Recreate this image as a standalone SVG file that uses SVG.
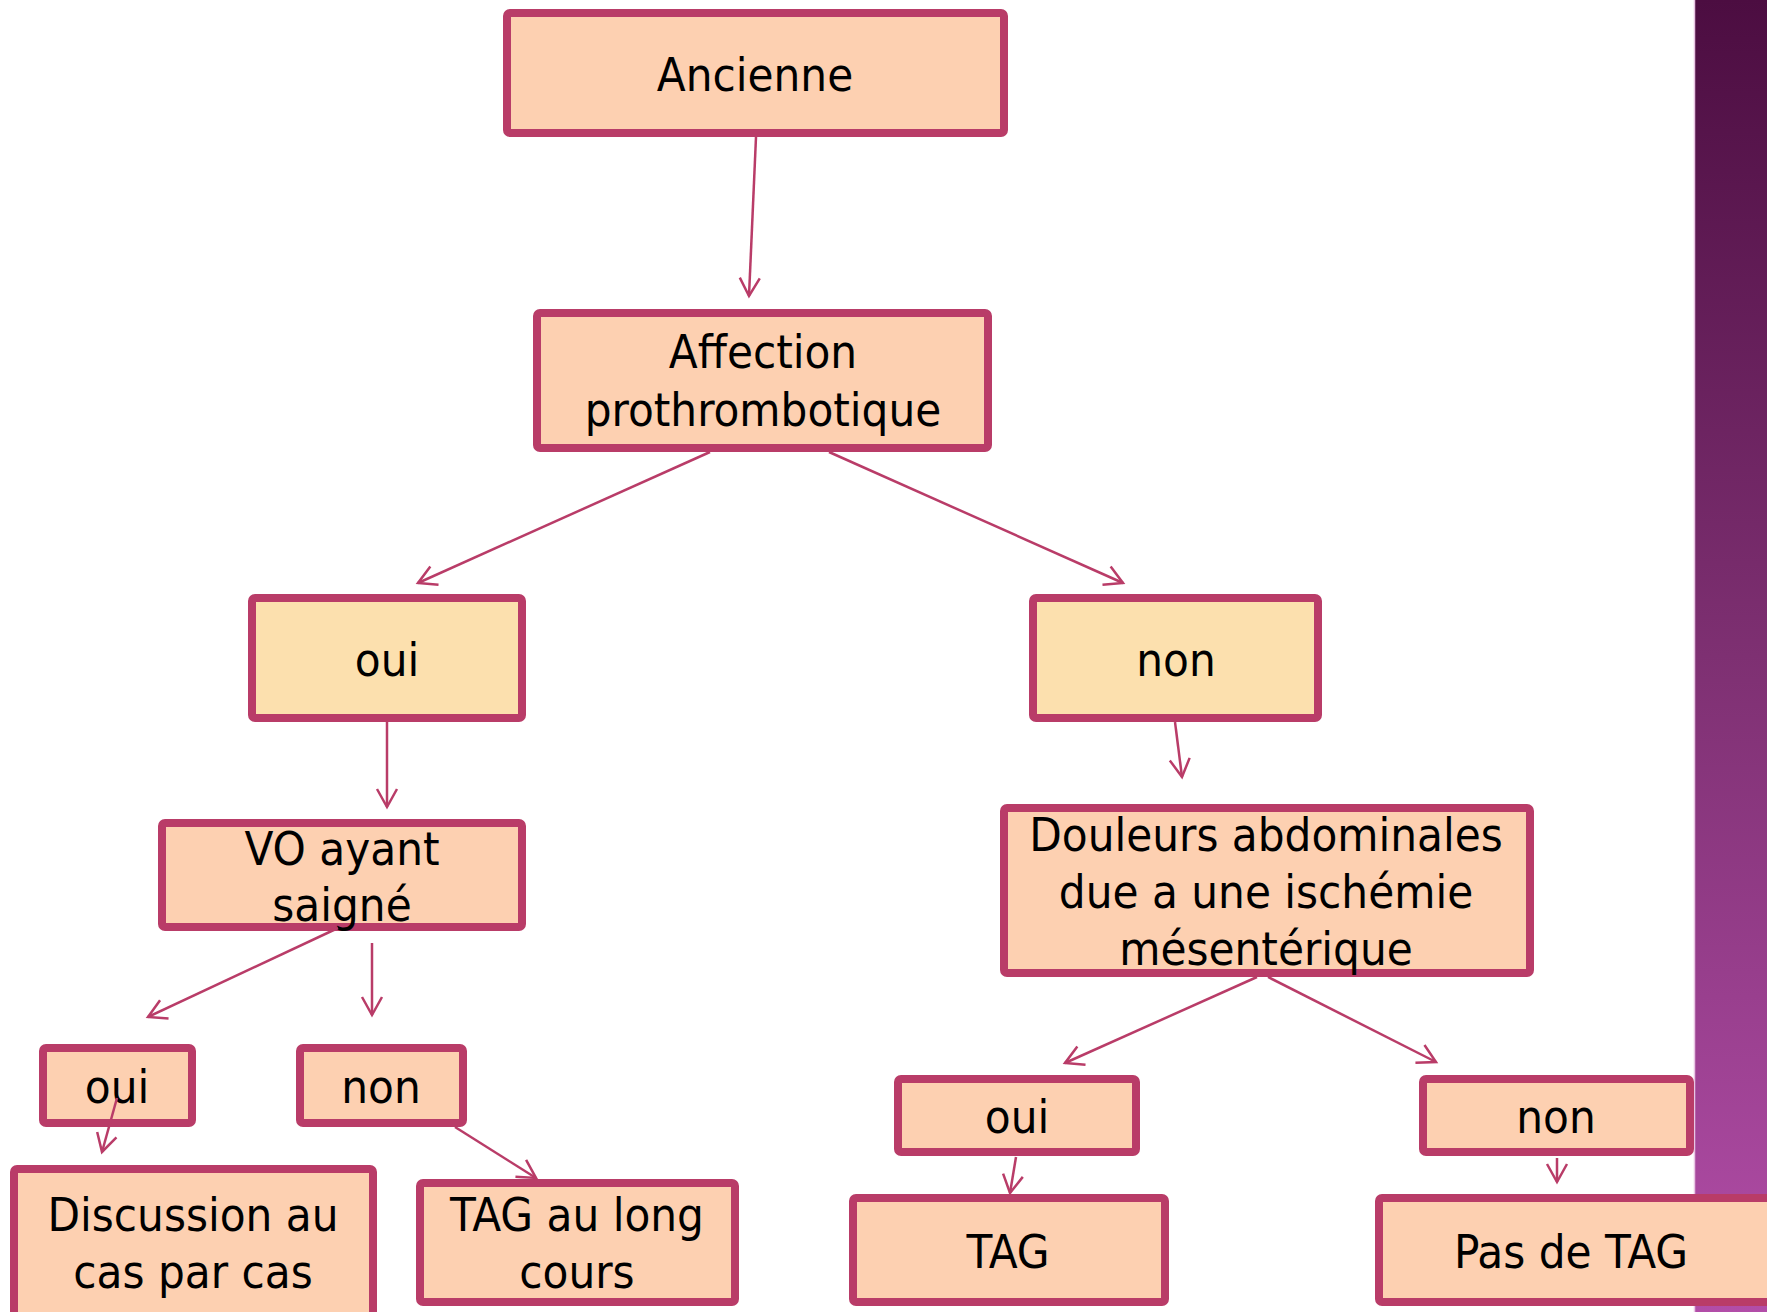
<svg xmlns="http://www.w3.org/2000/svg" width="1767" height="1312" viewBox="0 0 1767 1312">
<style>
.box{fill:#FDD0B1;stroke:#B93C68;stroke-width:8}
.yel{fill:#FCE0AE;stroke:#B93C68;stroke-width:8}
.t{font-family:"DejaVu Sans Condensed","DejaVu Sans",sans-serif;font-stretch:condensed;font-size:47px;fill:#000;text-anchor:middle}
.c{stroke:#B93C68;stroke-width:2.5;fill:none;marker-end:url(#ah)}
</style>
<defs>
<linearGradient id="band" x1="0" y1="0" x2="0" y2="1">
<stop offset="0" stop-color="#4C0D41"/>
<stop offset="0.5" stop-color="#7E3072"/>
<stop offset="1" stop-color="#B24DA8"/>
</linearGradient>
<marker id="ah" markerUnits="userSpaceOnUse" viewBox="-22 -13 26 26" refX="0" refY="0" markerWidth="26" markerHeight="26" orient="auto">
<path d="M-18,-10 L0,0 L-18,10" fill="none" stroke="#B93C68" stroke-width="2.5"/>
</marker>
</defs>
<rect x="0" y="0" width="1767" height="1312" fill="#fff"/>
<rect x="1694" y="0" width="73" height="1312" fill="url(#band)"/>
<line x1="1694.5" y1="0" x2="1694.5" y2="1312" stroke="#E9C6E4" stroke-width="1.5"/>
<g id="n-ancienne"><rect class="box" x="507" y="13" width="497" height="120" rx="3"/><text class="t" x="755" y="91">Ancienne</text></g>
<g id="n-affection"><rect class="box" x="537" y="313" width="451" height="135" rx="3"/><text class="t" x="763" y="368">Affection</text><text class="t" x="763" y="426">prothrombotique</text></g>
<g id="n-oui1"><rect class="yel" x="252" y="598" width="270" height="120" rx="3"/><text class="t" x="387" y="676">oui</text></g>
<g id="n-non1"><rect class="yel" x="1033" y="598" width="285" height="120" rx="3"/><text class="t" x="1176" y="676">non</text></g>
<g id="n-vo"><rect class="box" x="162" y="823" width="360" height="104" rx="3"/><text class="t" x="342" y="865">VO ayant</text><text class="t" x="342" y="921">saigné</text></g>
<g id="n-douleurs"><rect class="box" x="1004" y="808" width="526" height="165" rx="3"/><text class="t" x="1266" y="851">Douleurs abdominales</text><text class="t" x="1266" y="908">due a une ischémie</text><text class="t" x="1266" y="965">mésentérique</text></g>
<g id="n-oui2"><rect class="box" x="43" y="1048" width="149" height="75" rx="3"/><text class="t" x="117" y="1103">oui</text></g>
<g id="n-non2"><rect class="box" x="300" y="1048" width="163" height="75" rx="3"/><text class="t" x="381" y="1103">non</text></g>
<g id="n-discussion"><rect class="box" x="14" y="1169" width="359" height="160" rx="3"/><text class="t" x="193" y="1231">Discussion au</text><text class="t" x="193" y="1288">cas par cas</text></g>
<g id="n-taglong"><rect class="box" x="420" y="1183" width="315" height="119" rx="3"/><text class="t" x="577" y="1231">TAG au long</text><text class="t" x="577" y="1288">cours</text></g>
<g id="n-oui3"><rect class="box" x="898" y="1079" width="238" height="73" rx="3"/><text class="t" x="1017" y="1133">oui</text></g>
<g id="n-non3"><rect class="box" x="1423" y="1079" width="267" height="73" rx="3"/><text class="t" x="1556" y="1133">non</text></g>
<g id="n-tag"><rect class="box" x="853" y="1198" width="312" height="104" rx="3"/><text class="t" x="1008" y="1268">TAG</text></g>
<g id="n-pasdetag"><rect class="box" x="1379" y="1198" width="400" height="104" rx="3"/><text class="t" x="1571" y="1268">Pas de TAG</text></g>
<g id="connectors">
<line class="c" x1="756" y1="137" x2="749" y2="296"/>
<line class="c" x1="710" y1="452" x2="418" y2="583"/>
<line class="c" x1="829" y1="452" x2="1123" y2="583"/>
<line class="c" x1="387" y1="722" x2="387" y2="807"/>
<line class="c" x1="1175" y1="722" x2="1182" y2="777"/>
<line class="c" x1="338" y1="928" x2="148" y2="1017"/>
<line class="c" x1="372" y1="943" x2="372" y2="1015"/>
<line class="c" x1="117" y1="1098" x2="102" y2="1152"/>
<line class="c" x1="455" y1="1127" x2="536" y2="1178"/>
<line class="c" x1="1257" y1="977" x2="1065" y2="1063"/>
<line class="c" x1="1268" y1="977" x2="1436" y2="1062"/>
<line class="c" x1="1016" y1="1157" x2="1010" y2="1193"/>
<line class="c" x1="1557" y1="1158" x2="1557" y2="1182"/>
</g>
</svg>
